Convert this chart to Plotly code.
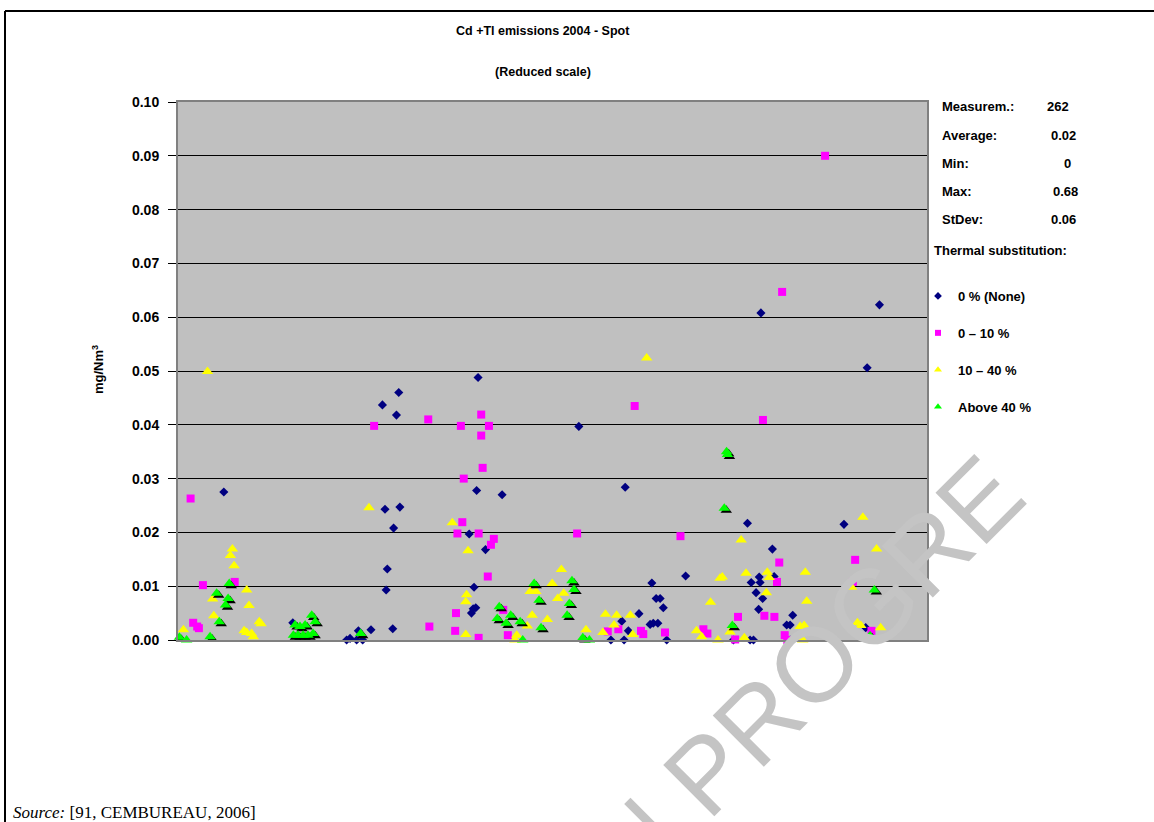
import plotly.graph_objects as go

# measurement order (sequence position, 0-262) and concentration in mg/Nm3
none_x = [16.0, 40.1, 58.9, 60.1, 62.4, 64.5, 63.0, 67.4, 71.4, 72.3, 73.1, 72.7, 75.3, 75.0, 76.3, 77.1,
          77.5, 104.8, 104.3, 101.7, 107.4, 103.4, 103.1, 102.5, 104.0, 113.2, 140.0, 156.2, 155.0, 157.3,
          151.2, 155.8, 161.0, 165.5, 167.0, 168.4, 169.5, 164.9, 166.0, 167.6, 170.7, 177.3, 203.6, 198.9,
          207.6, 203.0, 200.2, 203.3, 208.2, 201.9, 204.2, 202.8, 214.7, 212.6, 213.8, 194.0, 199.8, 201.0,
          213.8, 232.6, 240.7, 245.0, 246.3, 240.2]
none_y = [0.0275, 0.0032, 0.0, 0.0003, 0.0, 0.0, 0.0017, 0.0019, 0.0437, 0.0243, 0.0132, 0.0093, 0.0208,
          0.0021, 0.0418, 0.0460, 0.0247, 0.0488, 0.0278, 0.0197, 0.0168, 0.0098, 0.0058, 0.0050, 0.0060,
          0.0270, 0.0397, 0.0284, 0.0035, 0.0017, 0.0, 0.0, 0.0049, 0.0106, 0.0077, 0.0077, 0.0060, 0.0029,
          0.0031, 0.0031, 0.0, 0.0119, 0.0608, 0.0217, 0.0169, 0.0117, 0.0107, 0.0107, 0.0118, 0.0088,
          0.0077, 0.0057, 0.0046, 0.0028, 0.0028, 0.0, 0.0, 0.0, 0.0, 0.0215, 0.0506, 0.0623, 0.0070, 0.0023]

low_x = [4.4, 5.3, 6.7, 7.3, 8.7, 19.8, 68.5, 87.4, 87.8, 105.9, 98.8, 108.6, 105.9, 106.4, 99.8, 99.3,
         97.6, 105.0, 110.3, 109.3, 108.2, 97.1, 96.8, 105.0, 113.6, 115.2, 139.4, 159.5, 150.1, 153.8,
         161.7, 162.5, 170.1, 175.5, 183.5, 184.9, 211.0, 226.0, 204.3, 210.0, 236.5, 235.7, 209.2, 195.6,
         204.8, 208.3, 194.6, 211.9, 212.8, 242.2]
low_y = [0.0263, 0.0032, 0.0025, 0.0022, 0.0102, 0.0108, 0.0398, 0.0410, 0.0025, 0.0419, 0.0398, 0.0398,
         0.0380, 0.0320, 0.0300, 0.0219, 0.0198, 0.0198, 0.0188, 0.0177, 0.0118, 0.0050, 0.0017, 0.0004,
         0.0056, 0.0009, 0.0198, 0.0435, 0.0016, 0.0020, 0.0017, 0.0011, 0.0014, 0.0193, 0.0020, 0.0012,
         0.0647, 0.0900, 0.0409, 0.0144, 0.0149, 0.0108, 0.0108, 0.0043, 0.0045, 0.0043, 0.0001, 0.0009,
         0.0, 0.0017]

mid_x = [1.9, 10.3, 12.1, 12.5, 18.3, 19.0, 19.6, 24.0, 24.8, 23.1, 24.0, 25.7, 26.3, 28.4, 29.0, 66.7,
         95.8, 101.3, 100.8, 100.5, 100.5, 133.9, 130.7, 123.0, 125.0, 134.7, 132.6, 123.7, 129.0, 122.0,
         118.3, 117.7, 142.5, 149.3, 153.2, 158.0, 152.3, 148.4, 158.8, 163.7, 181.1, 182.9, 186.0, 189.3,
         188.6, 196.7, 190.1, 198.4, 205.8, 206.5, 219.1, 205.5, 235.3, 219.6, 237.3, 238.5, 245.4, 217.3,
         218.7, 197.8, 216.9, 218.2, 192.8, 239.2, 244.0]
mid_y = [0.0019, 0.0499, 0.0076, 0.0045, 0.0157, 0.0169, 0.0138, 0.0093, 0.0064, 0.0017, 0.0014, 0.0012,
         0.0006, 0.0034, 0.0030, 0.0246, 0.0218, 0.0166, 0.0084, 0.0071, 0.0010, 0.0131, 0.0105, 0.0090,
         0.0090, 0.0087, 0.0077, 0.0046, 0.0038, 0.0026, 0.0009, 0.0, 0.0019, 0.0048, 0.0046, 0.0046,
         0.0028, 0.0014, 0.0010, 0.0524, 0.0017, 0.0006, 0.0070, 0.0115, 0.0, 0.0186, 0.0117, 0.0124,
         0.0126, 0.0116, 0.0126, 0.0088, 0.0098, 0.0072, 0.0032, 0.0027, 0.0023, 0.0025, 0.0027, 0.0004,
         0.0003, 0.0, 0.0015, 0.0228, 0.0169]

high_x = [0.5, 3.0, 11.2, 13.5, 14.4, 16.6, 17.5, 17.9, 46.7, 47.9, 40.9, 42.6, 44.4, 40.3, 41.9, 43.7,
          45.4, 47.2, 63.8, 124.4, 137.6, 138.3, 126.1, 136.7, 112.2, 111.5, 116.2, 114.6, 119.5, 126.8,
          135.9, 120.4, 141.4, 143.7, 191.6, 191.9, 190.8, 193.6, 243.2, 241.7]
high_y = [0.0005, 0.0, 0.0006, 0.0087, 0.0034, 0.0065, 0.0077, 0.0105, 0.0046, 0.0034, 0.0028, 0.0025,
          0.0028, 0.0009, 0.0009, 0.0009, 0.0009, 0.0012, 0.0012, 0.0105, 0.0110, 0.0094, 0.0074, 0.0068,
          0.0062, 0.0040, 0.0046, 0.0031, 0.0034, 0.0023, 0.0046, 0.0, 0.0004, 0.0, 0.0350, 0.0345, 0.0245,
          0.0027, 0.0093, 0.0008]

limit_x = [-1.8]
limit_y = [0.0502]

series_names = ["0 % (None)", "0 – 10 %", "10 – 40 %", "Above 40 %"]
stat_labels = ["Measurem.:", "Average:", "Min:", "Max:", "StDev:"]
stat_values = ["262", "0.02", "0", "0.68", "0.06"]

W, H = 1154, 822
L, R, T, B = 178, 927, 102, 640


def px_x(px):
    return (px - L) / (R - L)


def px_y(py):
    return (B - py) / (B - T)


BOLD = dict(family="Liberation Sans, Arial", size=13, color="black", weight="bold")

fig = go.Figure()

# legend-only entries with small symbols
legend_syms = [("diamond", "#000080", 6), ("square", "#FF00FF", 6), ("triangle-up", "#FFFF00", 7),
               ("triangle-up", "#00FF00", 7)]
for name, (sym, col, sz) in zip(series_names, legend_syms):
    fig.add_trace(go.Scatter(x=[None], y=[None], mode="markers", name=name, legendgroup=name,
                             marker=dict(symbol=sym, color=col, size=sz)))

fig.add_trace(go.Scatter(x=none_x, y=none_y, mode="markers", showlegend=False, cliponaxis=False,
                         marker=dict(symbol="diamond", color="#000080", size=7)))
fig.add_trace(go.Scatter(x=low_x, y=low_y, mode="markers", showlegend=False, cliponaxis=False,
                         marker=dict(symbol="square", color="#FF00FF", size=8)))
fig.add_trace(go.Scatter(x=mid_x, y=mid_y, mode="markers", showlegend=False, cliponaxis=False,
                         marker=dict(symbol="triangle-up", color="#FFFF00", size=10)))
# black drop shadow behind the green triangles
fig.add_trace(go.Scatter(x=[v + 0.7 for v in high_x], y=[v - 0.0004 for v in high_y], mode="markers",
                         showlegend=False, cliponaxis=False,
                         marker=dict(symbol="triangle-up", color="black", size=10)))
fig.add_trace(go.Scatter(x=high_x, y=high_y, mode="markers", showlegend=False, cliponaxis=False,
                         marker=dict(symbol="triangle-up", color="#00FF00", size=10)))
fig.add_trace(go.Scatter(x=limit_x, y=limit_y, mode="markers", showlegend=False, cliponaxis=False,
                         marker=dict(symbol="circle", color="red", size=4)))

ann = [
    dict(text="Cd +Tl emissions 2004 - Spot", x=px_x(543), y=px_y(31), font=dict(BOLD, size=12.5)),
    dict(text="(Reduced scale)", x=px_x(543), y=px_y(72), font=dict(BOLD, size=12.5)),
    dict(text="mg/Nm<sup>3</sup>", x=px_x(98), y=px_y(370), textangle=-90, font=BOLD),
    dict(text="Thermal substitution:", x=px_x(932), y=px_y(251), xanchor="left", font=BOLD),
    dict(text="<i>Source:</i> [91, CEMBUREAU, 2006]", x=px_x(11), y=px_y(812), xanchor="left",
         font=dict(family="Liberation Serif, Times New Roman", size=17, color="black")),
    # draft watermark, cut off at the top in the source document
    dict(text="IN PROGRE", x=px_x(795), y=px_y(683), textangle=-45,
         font=dict(family="Liberation Sans, Arial", size=105, color="#c4c4c4")),
]
stat_rows = [106, 135, 163, 191, 219]
stat_right = [1071, 1078, 1073, 1080, 1078]
for lab, val, ry, rx in zip(stat_labels, stat_values, stat_rows, stat_right):
    ann.append(dict(text=lab, x=px_x(940), y=px_y(ry), xanchor="left", font=BOLD))
    ann.append(dict(text=val, x=px_x(rx), y=px_y(ry), xanchor="right", font=BOLD))
for a in ann:
    a.update(xref="paper", yref="paper", showarrow=False)
    a.setdefault("xanchor", "center")
    a.setdefault("yanchor", "middle")

# page frame (left and top rules)
frame = [
    dict(type="line", x0=px_x(5), x1=px_x(5), y0=px_y(11), y1=px_y(W)),
    dict(type="line", x0=px_x(5), x1=px_x(W + 5), y0=px_y(11), y1=px_y(11)),
]
for s in frame:
    s.update(xref="paper", yref="paper", line=dict(color="black", width=2))

fig.update_layout(
    width=W, height=H,
    margin=dict(l=L, r=W - R, t=T, b=H - B),
    paper_bgcolor="white",
    plot_bgcolor="#C0C0C0",
    annotations=ann,
    shapes=frame,
    showlegend=True,
    legend=dict(x=px_x(918), y=px_y(281), xanchor="left", yanchor="top", font=BOLD,
                bgcolor="rgba(0,0,0,0)", tracegroupgap=17),
    xaxis=dict(range=[0, 261.6], showgrid=False, zeroline=False, showticklabels=False, ticks="",
               showline=True, linecolor="#808080", linewidth=2, mirror=True),
    yaxis=dict(range=[0, 0.1], tick0=0, dtick=0.01, tickformat=".2f", ticks="outside", ticklen=8,
               tickcolor="black", tickwidth=1, showgrid=True, gridcolor="black", gridwidth=1,
               zeroline=False, showline=True, linecolor="#808080", linewidth=2, mirror=True,
               ticklabelstandoff=6, tickfont=dict(BOLD, size=14)),
)

fig.write_html("out.html", config={"displayModeBar": False},
               post_script="document.body.style.margin = '0px';")
